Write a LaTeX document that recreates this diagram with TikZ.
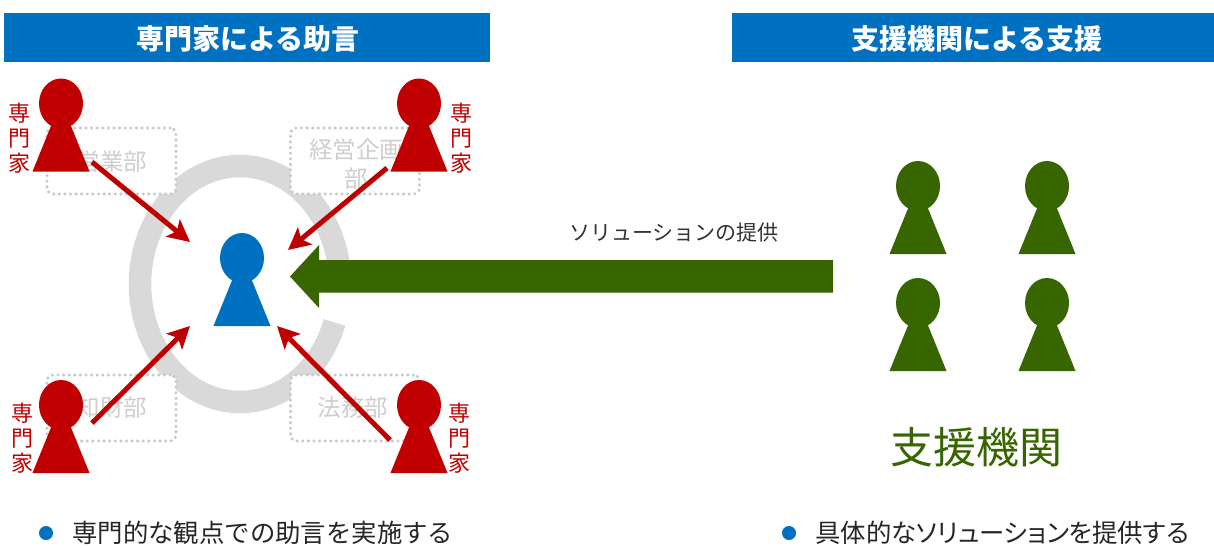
\documentclass[tikz,border=0pt]{standalone}
\usepackage{fontspec}
\usetikzlibrary{arrows.meta}
\setmainfont{Noto Sans CJK JP}
\newfontfamily\paltfont[RawFeature={+palt}]{Noto Sans CJK JP}
\definecolor{hdrblue}{HTML}{0070C0}
\definecolor{expred}{HTML}{C00000}
\definecolor{orggreen}{HTML}{376600}
\definecolor{ringgray}{HTML}{D9D9D9}
\definecolor{boxgray}{HTML}{C8C8C8}
\newcommand{\personfig}[4]{% name, head x, head y, colour
  \coordinate (#1) at (#2,#3);
  \fill[#4] (#1) ellipse [x radius=22pt, y radius=25pt];
  \fill[#4] ([shift={(-9,20)}]#1) -- ([shift={(9,20)}]#1) -- ([shift={(28.5,68)}]#1) -- ([shift={(-28.5,68)}]#1) -- cycle;
}
\tikzset{
  x=1pt, y=-1pt,
  header/.style={fill=hdrblue, text=white, minimum height=49pt, inner sep=0pt, font=\fontsize{28}{30}\selectfont\bfseries, text depth=0pt},
  deptbox/.style={draw=boxgray, fill=white, line width=3.4pt, dash pattern=on 0pt off 5.6pt, line cap=round, rounded corners=6pt, minimum width=129pt, minimum height=66pt, inner sep=0pt},
  depttext/.style={text=boxgray!90, font=\fontsize{23.5}{29}\selectfont, align=center, inner sep=0pt},
  experttext/.style={text=expred, font=\fontsize{22}{25}\selectfont, align=center, inner sep=0pt},
  advice/.style={draw=expred, line width=5pt, -{Stealth[length=22pt,width=22pt,inset=5pt]}},
  bulletdot/.style={circle, fill=hdrblue, minimum size=14pt, inner sep=0pt},
  bullettext/.style={anchor=west, inner sep=0pt, font=\fontsize{25.4}{30}\selectfont, text=black!85},
}
\begin{document}
\begin{tikzpicture}
\useasboundingbox (0,0) rectangle (1214,547);
\fill[white] (0,0) rectangle (1214,547);
% headers
\node[header, minimum width=486pt] (h1) at (247,37.5) {\hspace*{2pt}専門家による助言};
\node[header, minimum width=482pt] (h2) at (973,37.5) {\hspace*{8pt}支援機関による支援};
% ring
\draw[ringgray, line width=22.5pt] plot[smooth, samples=120, domain=-341:0] ({240+100*cos(\x)},{284+118*sin(\x)});
% department boxes
\node[deptbox] (b1) at (111.5,161) {};
\node[deptbox] (b2) at (355,161) {};
\node[deptbox] (b3) at (111.5,408) {};
\node[deptbox] (b4) at (355,408) {};
\node[depttext] (t1) at (112,162) {営業部};
\node[depttext] (t2) at (356,164) {経営企画\\部};
\node[depttext] (t3) at (112,408) {知財部};
\node[depttext] (t4) at (353,408) {法務部};
% people
\personfig{p1}{61}{103.5}{expred}
\personfig{p2}{419}{103.5}{expred}
\personfig{p3}{61}{405}{expred}
\personfig{p4}{419}{405}{expred}
\personfig{c}{242}{258}{hdrblue}
\personfig{g1}{918}{186}{orggreen}
\personfig{g2}{1047}{186}{orggreen}
\personfig{g3}{918}{303}{orggreen}
\personfig{g4}{1047}{303}{orggreen}
% expert labels
\node[experttext] (e1) at (20,138) {専\\門\\家};
\node[experttext] (e2) at (461.5,138) {専\\門\\家};
\node[experttext] (e3) at (22,438) {専\\門\\家};
\node[experttext] (e4) at (459,438) {専\\門\\家};
% advice arrows
\coordinate (a1s) at (92,162);  \coordinate (a1e) at (190,242);
\coordinate (a2s) at (387,168); \coordinate (a2e) at (288,250);
\coordinate (a3s) at (92,423);  \coordinate (a3e) at (190,326);
\coordinate (a4s) at (390,440); \coordinate (a4e) at (277,326);
\draw[advice] (a1s) -- (a1e);
\draw[advice] (a2s) -- (a2e);
\draw[advice] (a3s) -- (a3e);
\draw[advice] (a4s) -- (a4e);
% solution arrow
\fill[orggreen] (833,260) -- (319,260) -- (319,245) -- (290,276.5) -- (319,308) -- (319,292.5) -- (833,292.5) -- cycle;
\node[inner sep=0pt, text=black!80, font=\fontsize{21}{25}\selectfont] (sol) at (674,233) {ソリューションの提供};
\node[inner sep=0pt, text=orggreen, font=\fontsize{43}{50}\selectfont] (org) at (976,447) {支援機関};
% bullets
\node[bulletdot] (d1) at (46,533) {};
\node[bullettext] (l1) at (72,533) {専門的な観点での助言を実施する};
\node[bulletdot] (d2) at (789,533) {};
\node[bullettext] (l2) at (815,533) {\paltfont 具体的なソリューションを提供する};
\end{tikzpicture}
\end{document}
